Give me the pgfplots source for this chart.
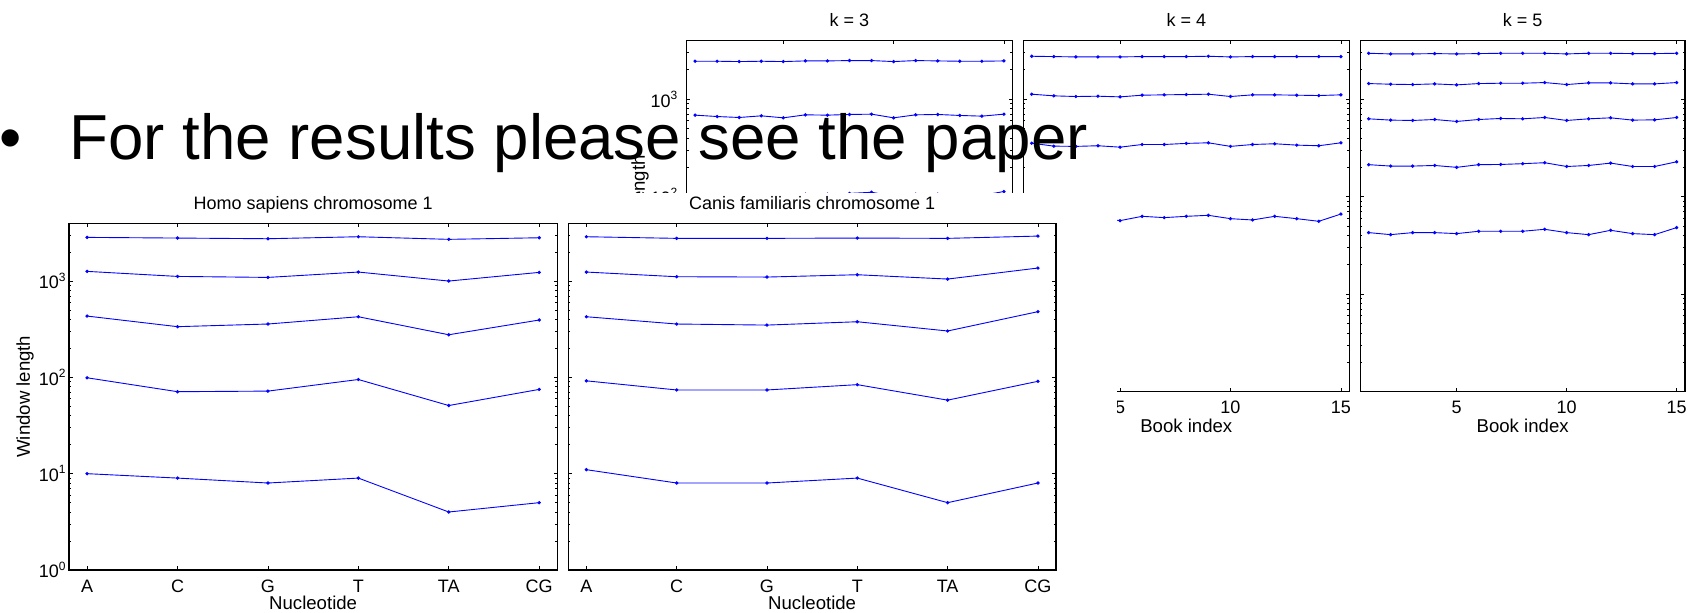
\documentclass[border=0pt]{standalone}
\usepackage{fontspec}
\setmainfont{Liberation Sans}
\usepackage{pgfplots}
\usepackage{pgfplotstable}
\pgfplotsset{compat=1.18}

% window lengths per nucleotide, one column per curve
\pgfplotstableread{
x a b c d e
1 2840 1260 433 99 10
2 2795 1117 336 71 9
3 2750 1091 358 72 8
4 2885 1240 426 95 9
5 2710 1000 277 51 4
6 2815 1230 394 75 5
}\homo
\pgfplotstableread{
x a b c d e
1 2885 1240 426 92 11
2 2775 1109 358 74 8
3 2775 1100 349 74 8
4 2795 1163 378 84 9
5 2775 1049 303 58 5
6 2930 1365 481 91 8
}\canis
% book index panels
\pgfplotstableread{
x a b c
1 2450 686 104
2 2450 664 103
3 2431 649 102
4 2450 675 104
5 2431 644 101
6 2469 691 106
7 2469 686 106
8 2489 697 108
9 2489 702 111
10 2431 644 101
11 2489 691 106
12 2469 697 106
13 2450 681 104
14 2450 670 103
15 2469 702 113
}\kthree
\pgfplotstableread{
x a b c d
1 2756 1125 354 60
2 2735 1082 330 61
3 2713 1065 328 60
4 2713 1073 333 61
5 2713 1056 322 56.8
6 2735 1099 343 62.9
7 2735 1108 343 61.0
8 2735 1116 352 62.9
9 2756 1125 357 64.4
10 2713 1065 328 59.5
11 2735 1108 343 57.7
12 2735 1108 349 62.9
13 2735 1099 338 59.5
14 2735 1090 333 55.9
15 2735 1108 357 66.4
}\kfour
\pgfplotstableread{
x a b c d e
1 2958 1446 629 213 42.8
2 2912 1424 610 206 40.8
3 2912 1413 605 206 42.8
4 2935 1435 619 209 42.8
5 2912 1402 591 200 41.8
6 2935 1446 619 213 44.2
7 2958 1458 634 214 44.2
8 2958 1458 629 218 44.2
9 2958 1481 649 223 46.3
10 2912 1413 605 204 42.8
11 2958 1469 629 209 40.8
12 2958 1469 644 221 45.2
13 2935 1435 610 204 41.8
14 2935 1435 614 204 40.8
15 2958 1481 649 228 48.2
}\kfive

\pgfplotsset{
  matax/.style={
    scale only axis,
    ymin=1, ymax=3981,
    axis line style={line width=0.6pt},
    major tick style={black, line width=0.4pt},
    minor tick style={black, line width=0.4pt},
    major tick length=1.8pt, minor tick length=1.0pt,
    tick align=inside,
    ytick={1,10,100,1000},
    minor ytick={2,3,4,5,6,7,8,9,20,30,40,50,60,70,80,90,200,300,400,500,600,700,800,900,2000,3000},
    yticklabels={10\textsuperscript{0},10\textsuperscript{1},10\textsuperscript{2},10\textsuperscript{3}},
    tick label style={font=\fontsize{9}{10}\selectfont},
    label style={font=\fontsize{9.3}{10}\selectfont},
    every axis title/.style={at={(0.5,1)}, anchor=base, yshift=7pt, inner sep=0pt,
      font=\fontsize{9}{10}\selectfont},
    yticklabel style={anchor=east, inner sep=0pt, xshift=-1pt},
    ylabel style={anchor=center},
  },
  toppanel/.style={matax, height=175.5pt, anchor=south west,
    xmin=0.62, xmax=15.38, xtick={5,10,15},
    xticklabels={5,10,15},
    xticklabel style={anchor=base, inner sep=0pt, yshift=-10.8pt},
    xlabel={Book index},
    xlabel style={at={(0.5,0)}, anchor=base, yshift=-20.4pt},
  },
  botpanel/.style={matax, height=173.35pt, anchor=south west,
    xmin=0.8, xmax=6.2, xtick={1,2,3,4,5,6},
    xticklabels={A,C,G,T,TA,CG},
    xticklabel style={anchor=base, inner sep=0pt, yshift=-11.3pt},
    xlabel={Nucleotide},
    xlabel style={at={(0.5,0)}, anchor=base, yshift=-20pt},
  },
  dataser/.style={blue, line width=0.45pt, mark=*, mark size=0.6pt},
}

\begin{document}
\begin{tikzpicture}[x=1pt,y=1pt]
\useasboundingbox (0,0) rectangle (847,306.5);

\begin{semilogyaxis}[toppanel, at={(343.35pt,110.65pt)}, width=162.8pt, title={k = 3},
  ylabel={Window length},
  ylabel style={at={(-0.1434,0.5)}},
  yticklabel style={xshift=-3pt}]
\addplot[dataser] table[x=x,y=a] {\kthree};
\addplot[dataser] table[x=x,y=b] {\kthree};
\addplot[dataser] table[x=x,y=c] {\kthree};
\end{semilogyaxis}

\begin{semilogyaxis}[toppanel, at={(511.65pt,110.65pt)}, width=163pt, title={k = 4},
  yticklabels={}]
\addplot[dataser] table[x=x,y=a] {\kfour};
\addplot[dataser] table[x=x,y=b] {\kfour};
\addplot[dataser] table[x=x,y=c] {\kfour};
\addplot[dataser] table[x=x,y=d] {\kfour};
\end{semilogyaxis}

\begin{semilogyaxis}[toppanel, at={(680.15pt,110.65pt)}, width=162.35pt, title={k = 5},
  yticklabels={}]
\addplot[dataser] table[x=x,y=a] {\kfive};
\addplot[dataser] table[x=x,y=b] {\kfive};
\addplot[dataser] table[x=x,y=c] {\kfive};
\addplot[dataser] table[x=x,y=d] {\kfive};
\addplot[dataser] table[x=x,y=e] {\kfive};
\end{semilogyaxis}

% second pasted figure covers the lower part of the first
\fill[white] (0,0) rectangle (558.5,210);

\begin{semilogyaxis}[botpanel, at={(34.5pt,21.5pt)}, width=244.15pt,
  title={Homo sapiens chromosome 1},
  ylabel={Window length},
  ylabel style={at={(-0.0901,0.5)}}]
\addplot[dataser] table[x=x,y=a] {\homo};
\addplot[dataser] table[x=x,y=b] {\homo};
\addplot[dataser] table[x=x,y=c] {\homo};
\addplot[dataser] table[x=x,y=d] {\homo};
\addplot[dataser] table[x=x,y=e] {\homo};
\end{semilogyaxis}

\begin{semilogyaxis}[botpanel, at={(284.15pt,21.5pt)}, width=243.85pt,
  title={Canis familiaris chromosome 1},
  yticklabels={}]
\addplot[dataser] table[x=x,y=a] {\canis};
\addplot[dataser] table[x=x,y=b] {\canis};
\addplot[dataser] table[x=x,y=c] {\canis};
\addplot[dataser] table[x=x,y=d] {\canis};
\addplot[dataser] table[x=x,y=e] {\canis};
\end{semilogyaxis}

\node[anchor=base west, inner sep=0pt, font=\fontsize{31.8}{36}\selectfont] at (-0.7,226.5) {•};
\node[anchor=base west, inner sep=0pt, font=\fontsize{31.8}{36}\selectfont] at (34.6,226.5) {For the results please see the paper};
\end{tikzpicture}
\end{document}
